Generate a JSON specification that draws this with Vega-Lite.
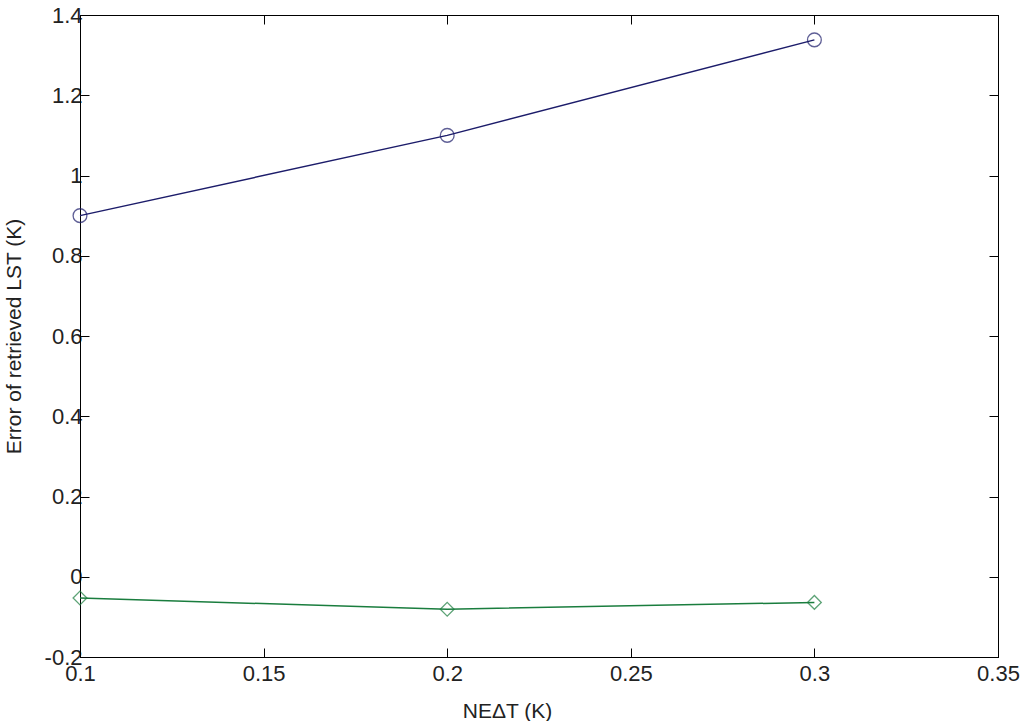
{
  "$schema": "https://vega.github.io/schema/vega-lite/v6.json",
  "autosize": "none",
  "width": 918,
  "height": 642,
  "padding": {"left": 80, "top": 15, "right": 26, "bottom": 64},
  "background": "white",
  "config": {
    "view": {"stroke": "#000", "strokeWidth": 1},
    "font": "Liberation Sans",
    "axis": {
      "grid": false,
      "domainColor": "#000",
      "tickColor": "#000",
      "labelColor": "#222",
      "titleColor": "#222",
      "labelFont": "Liberation Sans",
      "titleFont": "Liberation Sans",
      "labelFontSize": 22,
      "titleFontSize": 21,
      "titleFontWeight": "normal",
      "labelOverlap": false,
      "labelFlush": false,
      "labelBound": false,
      "tickSize": -9
    }
  },
  "data": {
    "values": [
      {"noise": 0.1, "error": 0.9, "series": "A"},
      {"noise": 0.2, "error": 1.1, "series": "A"},
      {"noise": 0.3, "error": 1.338, "series": "A"},
      {"noise": 0.1, "error": -0.053, "series": "B"},
      {"noise": 0.2, "error": -0.081, "series": "B"},
      {"noise": 0.3, "error": -0.064, "series": "B"}
    ]
  },
  "layer": [
    {
      "mark": {"type": "line", "strokeWidth": 1.5},
      "encoding": {
        "x": {
          "field": "noise", "type": "quantitative",
          "scale": {"domain": [0.1, 0.35], "nice": false, "zero": false},
          "axis": {
            "title": "NEΔT (K)",
            "values": [0.1, 0.15, 0.2, 0.25, 0.3, 0.35],
            "labelExpr": "toString(round(datum.value*100)/100)",
            "labelPadding": 15,
            "titlePadding": 16,
            "titleX": 427
          }
        },
        "y": {
          "field": "error", "type": "quantitative",
          "scale": {"domain": [-0.2, 1.4], "nice": false, "zero": false},
          "axis": {
            "title": "Error of retrieved LST (K)",
            "values": [-0.2, 0, 0.2, 0.4, 0.6, 0.8, 1, 1.2, 1.4],
            "labelExpr": "toString(round(datum.value*10)/10)",
            "labelPadding": 7,
            "titlePadding": 10,
            "titleX": -56
          }
        },
        "color": {
          "field": "series", "type": "nominal",
          "scale": {"domain": ["A", "B"], "range": ["#1c1c6a", "#1a7d3e"]},
          "legend": null
        }
      }
    },
    {
      "mark": {"type": "point", "filled": false, "strokeWidth": 1.3},
      "encoding": {
        "x": {
          "field": "noise", "type": "quantitative",
          "scale": {"domain": [0.1, 0.35], "nice": false, "zero": false},
          "axis": null
        },
        "y": {
          "field": "error", "type": "quantitative",
          "scale": {"domain": [-0.2, 1.4], "nice": false, "zero": false},
          "axis": null
        },
        "color": {
          "field": "series", "type": "nominal",
          "scale": {"domain": ["A", "B"], "range": ["#1c1c6a", "#1a7d3e"]},
          "legend": null
        },
        "shape": {
          "field": "series", "type": "nominal",
          "scale": {"domain": ["A", "B"], "range": ["circle", "diamond"]},
          "legend": null
        },
        "size": {"value": 190}
      }
    },
    {
      "mark": {"type": "point", "opacity": 0},
      "encoding": {
        "x": {
          "field": "noise", "type": "quantitative",
          "scale": {"domain": [0.1, 0.35], "nice": false, "zero": false},
          "axis": {"orient": "top", "title": null, "labels": false,
                   "values": [0.1, 0.15, 0.2, 0.25, 0.3, 0.35]}
        },
        "y": {
          "field": "error", "type": "quantitative",
          "scale": {"domain": [-0.2, 1.4], "nice": false, "zero": false},
          "axis": {"orient": "right", "title": null, "labels": false,
                   "values": [-0.2, 0, 0.2, 0.4, 0.6, 0.8, 1, 1.2, 1.4]}
        }
      }
    }
  ],
  "resolve": {"axis": {"x": "independent", "y": "independent"}}
}
